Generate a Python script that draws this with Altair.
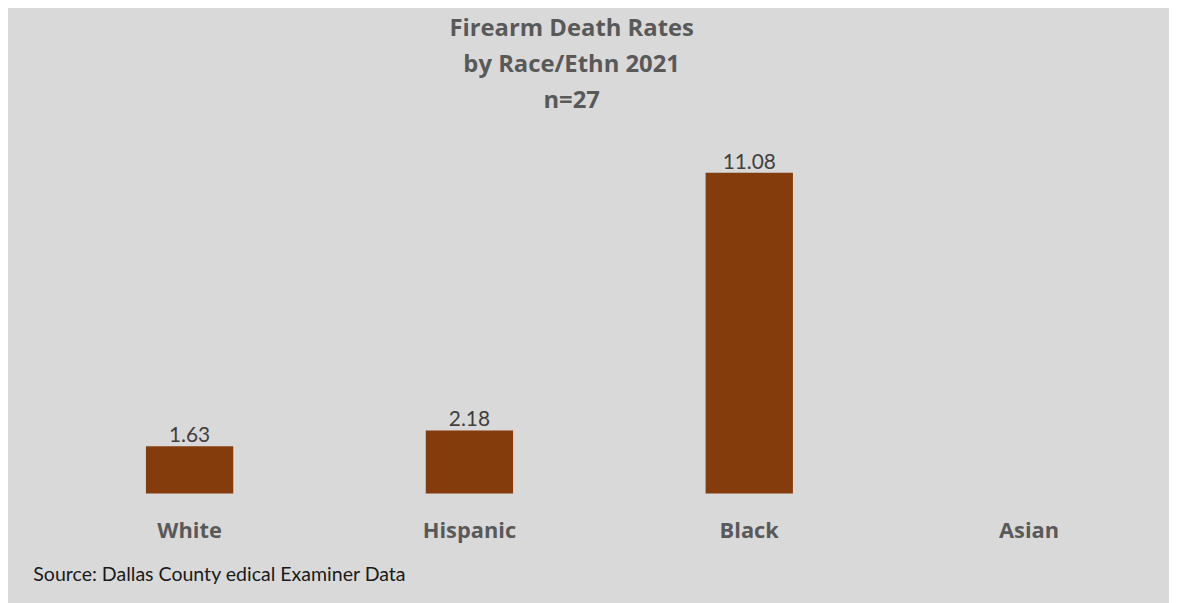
import altair as alt
import pandas as pd

categories = ["White", "Hispanic", "Black", "Asian"]
rates = [1.63, 2.18, 11.08, None]
title_lines = ["Firearm Death Rates", "by Race/Ethn 2021", "n=27"]
source_text = "Source: Dallas County edical Examiner Data"

df = pd.DataFrame({"race": categories, "rate": rates})

FONT = "Lato"
BOLD_FONT = "Open Sans"
GRAY = "#595959"

x_enc = alt.X(
    "race:N",
    sort=categories,
    scale=alt.Scale(domain=categories, paddingInner=0.688, paddingOuter=0.344),
    axis=alt.Axis(
        title=source_text,
        titleFont=FONT,
        titleFontSize=19.7,
        titleFontWeight="normal",
        titleColor="#1a1a1a",
        titleAnchor="start",
        titleAlign="left",
        titleBaseline="middle",
        titleX=-17,
        titleY=82,
        labelFont=BOLD_FONT,
        labelFontSize=22,
        labelFontWeight="bold",
        labelColor=GRAY,
        labelAngle=0,
        labelPadding=27,
        ticks=False,
        domain=False,
        grid=False,
    ),
)

y_enc = alt.Y("rate:Q", scale=alt.Scale(domain=[0, 12], nice=False), axis=None)

bars = alt.Chart(df).mark_bar(color="#843c0c").encode(x=x_enc, y=y_enc)

labels = (
    alt.Chart(df)
    .transform_filter("datum.rate != null")
    .mark_text(font=FONT, fontSize=21, color="#404040", baseline="alphabetic", dy=-4)
    .encode(x=x_enc, y=y_enc, text=alt.Text("rate:Q", format=".2f"))
)

chart = (
    alt.layer(bars, labels)
    .properties(
        width=1128,
        height=350,
        background="#d9d9d9",
        padding={"left": 42, "top": 137, "right": 0, "bottom": 108},
        autosize=alt.AutoSizeParams(type="none"),
        title=alt.TitleParams(
            text=title_lines,
            font=BOLD_FONT,
            fontSize=24,
            fontWeight="bold",
            color=GRAY,
            anchor="middle",
            dx=-38,
            offset=34,
            lineHeight=36,
        ),
    )
    .configure_view(stroke=None)
)

chart.save("out.html", embed_options={"renderer": "svg", "actions": False})
